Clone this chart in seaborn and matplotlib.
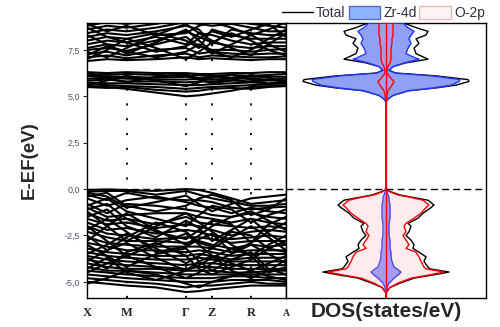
import numpy as np
import pandas as pd
import matplotlib
matplotlib.use("Agg")
import matplotlib.pyplot as plt
from matplotlib.lines import Line2D
from matplotlib.patches import Patch
import seaborn as sns

# k-path nodes (high symmetry points + segment midpoints)
k_nodes = [0.0, 0.2, 0.395, 0.69, 0.99, 1.12, 1.25, 1.445, 1.64, 1.815, 1.99]
k_ticks = [0.0, 0.395, 0.99, 1.25, 1.64, 1.99]
k_labels = ["X", "M", "Γ", "Z", "R", "A"]

valence = [
    [-0.05, -0.02, -0.05, -0.10, 0.00, -0.05, -0.20, -0.50, -0.80, -0.70, -0.60],
    [-0.15, -0.10, -0.10, -0.30, -0.10, -0.30, -0.50, -0.70, -0.90, -0.90, -0.80],
    [-0.30, -0.60, -0.20, -0.50, -0.60, -0.60, -0.70, -1.00, -1.10, -1.00, -0.95],
    [-0.50, -0.90, -0.60, -0.40, -0.70, -0.90, -1.00, -1.30, -1.00, -1.20, -1.30],
    [-0.80, -1.30, -0.80, -0.90, -1.10, -1.20, -1.40, -1.50, -1.30, -1.50, -1.60],
    [-1.00, -1.50, -1.40, -1.30, -1.30, -1.50, -1.60, -1.80, -1.60, -1.80, -1.90],
    [-1.30, -1.70, -1.60, -1.90, -1.50, -1.80, -1.90, -2.00, -2.10, -2.00, -2.10],
    [-1.60, -1.90, -1.80, -2.10, -1.90, -2.00, -2.20, -2.50, -2.30, -2.20, -2.30],
    [-1.80, -2.20, -2.10, -2.40, -2.20, -2.30, -2.50, -2.70, -2.60, -2.50, -2.60],
    [-2.00, -2.40, -2.50, -2.70, -2.60, -2.60, -2.70, -2.90, -2.80, -2.80, -2.80],
    [-2.30, -2.60, -2.80, -2.80, -2.90, -2.80, -3.00, -3.20, -3.00, -3.10, -3.00],
    [-2.60, -2.90, -3.00, -3.10, -3.10, -3.10, -3.20, -3.40, -3.30, -3.30, -3.30],
    [-2.90, -3.10, -3.30, -3.30, -3.40, -3.30, -3.40, -3.60, -3.50, -3.50, -3.50],
    [-3.20, -3.40, -3.50, -3.60, -3.60, -3.50, -3.60, -3.80, -3.70, -3.70, -3.70],
    [-3.40, -3.60, -3.70, -3.80, -3.80, -3.70, -3.80, -3.90, -3.90, -3.90, -3.90],
    [-3.60, -3.80, -3.90, -4.00, -4.10, -4.00, -4.00, -4.10, -4.10, -4.10, -4.10],
    [-3.80, -4.00, -4.10, -4.20, -4.30, -4.20, -4.20, -4.30, -4.30, -4.30, -4.30],
    [-4.00, -4.20, -4.30, -4.30, -4.40, -4.40, -4.40, -4.50, -4.50, -4.40, -4.40],
    [-4.20, -4.40, -4.40, -4.50, -4.60, -4.60, -4.60, -4.60, -4.60, -4.60, -4.60],
    [-4.40, -4.50, -4.60, -4.70, -4.80, -4.80, -4.80, -4.70, -4.70, -4.80, -4.80],
    [-4.60, -4.70, -4.80, -4.90, -5.00, -5.00, -5.00, -4.90, -4.90, -4.90, -5.00],
    [-4.80, -4.90, -5.00, -5.10, -5.30, -5.20, -5.20, -5.10, -5.00, -5.10, -5.10],
    [-5.00, -5.10, -5.20, -5.30, -5.55, -5.50, -5.40, -5.30, -5.20, -5.20, -5.20],
    [-1.20, -2.00, -2.80, -2.00, -1.30, -1.80, -2.30, -3.00, -3.60, -3.00, -2.50],
    [-2.80, -2.00, -1.30, -2.20, -3.00, -2.50, -2.00, -1.50, -1.20, -1.70, -2.20],
    [-3.50, -3.00, -2.40, -3.20, -4.00, -3.60, -3.20, -2.60, -2.00, -2.60, -3.30],
    [-4.50, -4.00, -3.60, -4.20, -4.80, -4.50, -4.00, -3.50, -3.00, -3.50, -4.00],
    [-2.00, -2.80, -3.60, -3.00, -2.40, -3.00, -3.60, -4.00, -4.40, -4.00, -3.60],
    [-0.40, -0.20, -0.90, -1.20, -0.90, -0.50, -0.30, -0.60, -1.40, -1.10, -0.50],
    [-0.90, -0.50, -1.20, -1.60, -2.00, -1.40, -0.90, -1.10, -1.80, -1.40, -1.10],
    [-1.50, -1.10, -2.00, -2.60, -1.70, -2.10, -2.80, -2.20, -1.60, -2.40, -3.00],
    [-2.20, -1.60, -2.30, -3.40, -3.10, -2.70, -2.40, -3.40, -2.90, -1.90, -1.50],
    [-3.00, -3.60, -4.20, -3.50, -3.20, -3.90, -4.40, -3.80, -3.40, -4.30, -4.60],
    [-3.70, -4.30, -3.40, -2.90, -3.60, -4.30, -4.60, -4.20, -3.80, -3.20, -2.80],
    [-4.30, -3.70, -4.50, -4.90, -4.40, -3.90, -3.60, -4.40, -4.80, -4.40, -3.80],
    [-5.10, -4.80, -4.40, -4.60, -5.10, -5.30, -5.00, -4.70, -4.40, -4.70, -4.90],
    [-0.20, -0.40, -1.00, -0.70, -0.35, -0.80, -1.20, -0.80, -0.50, -0.40, -0.30],
    [-2.50, -3.30, -2.60, -1.80, -2.30, -2.90, -3.10, -2.30, -2.50, -3.20, -3.40],
    [-1.10, -0.80, -1.60, -2.30, -2.70, -2.20, -1.70, -1.90, -2.90, -2.30, -1.80],
    [-3.90, -3.30, -2.90, -3.70, -4.40, -4.10, -3.70, -3.20, -3.60, -4.50, -4.20],
]

conduction = [
    [5.55, 5.50, 5.40, 5.20, 5.00, 5.05, 5.15, 5.30, 5.50, 5.55, 5.60],
    [5.65, 5.60, 5.55, 5.50, 5.40, 5.45, 5.50, 5.55, 5.60, 5.65, 5.70],
    [5.75, 5.70, 5.70, 5.65, 5.60, 5.60, 5.65, 5.70, 5.75, 5.70, 5.75],
    [5.85, 5.90, 5.80, 5.80, 5.75, 5.80, 5.80, 5.85, 5.80, 5.85, 5.85],
    [5.95, 6.00, 5.95, 5.90, 5.90, 5.95, 5.90, 5.95, 5.95, 5.90, 5.95],
    [6.10, 6.05, 6.05, 6.00, 6.05, 6.00, 6.05, 6.00, 6.05, 6.05, 6.05],
    [6.20, 6.15, 6.20, 6.15, 6.10, 6.15, 6.10, 6.15, 6.10, 6.15, 6.20],
    [6.30, 6.25, 6.30, 6.25, 6.25, 6.20, 6.20, 6.25, 6.25, 6.30, 6.30],
    [5.60, 5.85, 6.10, 5.85, 5.55, 5.75, 6.00, 6.15, 5.90, 5.65, 5.80],
    [6.25, 6.00, 5.75, 6.05, 6.20, 5.90, 5.70, 5.85, 6.15, 6.00, 5.70],
    [5.50, 5.45, 5.50, 5.35, 5.25, 5.30, 5.40, 5.45, 5.40, 5.50, 5.55],
    [6.90, 7.00, 6.95, 7.00, 7.10, 7.00, 7.05, 7.00, 6.95, 7.00, 7.00],
    [7.10, 7.20, 7.05, 7.20, 7.30, 7.10, 7.20, 7.15, 7.10, 7.10, 7.15],
    [7.30, 7.40, 7.20, 7.50, 7.60, 7.30, 7.40, 7.30, 7.25, 7.30, 7.30],
    [7.50, 7.60, 7.45, 7.80, 8.20, 7.70, 7.50, 7.50, 7.40, 7.50, 7.55],
    [7.60, 7.80, 7.70, 8.00, 8.50, 8.20, 7.90, 7.70, 7.60, 7.70, 7.70],
    [7.80, 8.00, 7.90, 8.20, 7.80, 8.40, 8.30, 8.00, 7.80, 7.90, 7.90],
    [8.00, 8.20, 8.10, 8.40, 8.00, 7.60, 8.60, 8.30, 8.10, 8.10, 8.10],
    [8.20, 8.40, 8.30, 8.50, 8.80, 8.60, 7.80, 8.60, 8.40, 8.30, 8.30],
    [8.40, 8.60, 8.50, 8.70, 9.00, 8.90, 8.80, 8.90, 8.70, 8.50, 8.50],
    [8.60, 8.80, 8.70, 8.90, 9.20, 9.10, 9.00, 9.10, 8.90, 8.80, 8.70],
    [8.80, 9.00, 8.90, 9.10, 9.40, 9.30, 9.20, 9.30, 9.10, 9.00, 8.90],
    [7.00, 7.50, 8.10, 7.60, 7.00, 7.40, 7.90, 8.40, 8.00, 7.50, 7.20],
    [8.30, 7.80, 7.30, 7.90, 8.60, 8.00, 7.40, 7.10, 7.50, 8.10, 8.60],
    [7.40, 7.10, 7.60, 8.30, 8.90, 8.40, 8.00, 7.60, 7.20, 7.80, 8.40],
    [8.70, 8.20, 7.90, 7.40, 7.70, 8.10, 8.50, 8.20, 8.60, 8.90, 8.20],
    [7.20, 7.70, 7.40, 7.10, 7.40, 7.80, 7.30, 7.80, 8.30, 7.80, 7.40],
    [8.90, 8.50, 8.80, 8.30, 8.40, 8.80, 9.00, 8.70, 8.30, 8.60, 9.00],
]

# density of states (half-width, arbitrary units) vs energy
dos_energy = [-5.9, -5.6, -5.45, -5.3, -5.07, -4.8, -4.63, -4.47, -4.3, -4.2, -3.9,
              -3.65, -3.4, -3.2, -3.0, -2.75, -2.5, -2.3, -2.0, -1.85, -1.57, -1.3,
              -1.0, -0.86, -0.6, -0.45, -0.32, -0.15, -0.05, 0.0, 4.7, 4.85, 5.05,
              5.3, 5.45, 5.6, 5.8, 5.9, 6.1, 6.25, 6.4, 6.6, 6.8, 7.0, 7.05, 7.3,
              7.6, 7.85, 8.1, 8.3, 8.5, 8.7, 8.95]
dos_total = [0, 0, 2, 4, 14, 28, 47, 63, 44, 42, 38,
             40, 33, 27, 28, 25, 20, 23, 25, 22, 32, 37,
             45, 48, 42, 27, 14, 5, 1, 0, 0, 2, 7,
             23, 50, 70, 83, 82, 50, 10, 3, 7, 20, 42, 40, 30,
             28, 33, 30, 40, 42, 30, 18]
dos_zr = [0, 0, 1, 1, 3, 8, 12, 15, 11, 8, 6,
          5, 5, 4, 4, 4, 3, 3, 3, 3, 4, 4,
          4, 4, 3, 3, 2, 1, 0.5, 0, 0, 2, 7,
          22, 47, 65, 73, 74, 46, 9, 3, 7, 18, 33, 30, 20,
          22, 25, 23, 25, 28, 22, 17]
dos_o = [0, 0, 2, 4, 12, 25, 43, 58, 40, 38, 35,
         33, 30, 20, 23, 20, 17, 20, 18, 20, 28, 35,
         40, 43, 37, 25, 12, 4, 1, 0, 0, 0.5, 1,
         2, 4, 6, 8, 6, 3, 1, 1, 2, 4, 5, 5, 5,
         5, 6, 6, 7, 7, 7, 7]

rows = []
for i, band in enumerate(valence + conduction):
    for k, e in zip(k_nodes, band):
        rows.append({"band": i, "k": k, "E": e})
bands_df = pd.DataFrame(rows)

sns.set_style("white")
plt.rcParams["font.family"] = ["Liberation Sans", "DejaVu Sans"]

fig = plt.figure(figsize=(5.0, 3.27), dpi=100)
ax1 = fig.add_axes([0.174, 0.0887, 0.398, 0.841])
ax2 = fig.add_axes([0.572, 0.0887, 0.400, 0.841])

ylim = (-5.87, 8.95)

# band structure
sns.lineplot(data=bands_df, x="k", y="E", units="band", estimator=None,
             color="black", linewidth=1.5, ax=ax1, zorder=3)
for kx in k_ticks[1:-1]:
    ax1.axvline(kx, color="black", linestyle=(0, (1.2, 7)), linewidth=1.3, zorder=1)
ax1.axhline(0, color="black", linestyle=(0, (5, 3)), linewidth=1.0, zorder=4)
ax1.set_xlim(k_ticks[0], k_ticks[-1])
ax1.set_ylim(*ylim)
ax1.set_xticks([])
ax1.set_xlabel("")
ax1.set_yticks([-5.0, -2.5, 0.0, 2.5, 5.0, 7.5])
ax1.set_yticklabels(["-5,0", "-2,5", "0,0", "2,5", "5,0", "7,5"])
ax1.tick_params(axis="y", direction="out", length=3, width=0.8, labelsize=6.5,
                labelcolor="#505064", left=True, pad=2)
ax1.set_ylabel("E-EF(eV)", fontsize=13.5, fontweight="bold", labelpad=19)
for kx, lab in zip(k_ticks, k_labels):
    size = 7 if lab == "A" else 9
    ax1.text(kx, -0.055, lab, transform=ax1.get_xaxis_transform(), ha="center",
             va="center", fontsize=size, fontweight="bold",
             family=["Liberation Serif", "DejaVu Serif"])

# density of states, mirrored around zero
e = np.array(dos_energy)
tot = np.array(dos_total, dtype=float)
zr = np.array(dos_zr, dtype=float)
ox = np.array(dos_o, dtype=float)


def outline(xvals, color, z):
    for sign in (1, -1):
        sns.lineplot(x=sign * xvals, y=e, sort=False, estimator=None, orient="y",
                     color=color, linewidth=1.0, ax=ax2, zorder=z)


outline(tot, "black", 2)
ax2.fill_betweenx(e, -zr, zr, color="#7b90f5", alpha=0.85, linewidth=0, zorder=3)
outline(zr, "#2233ff", 4)
ax2.fill_betweenx(e, -ox, ox, color="#ff9aa8", alpha=0.2, linewidth=0, zorder=5)
outline(ox, "red", 6)
ax2.axvline(0, color="red", linewidth=1.0, zorder=6)
ax2.axhline(0, color="black", linestyle=(0, (5, 3)), linewidth=1.0, zorder=7)
ax2.set_xlim(-100, 100)
ax2.set_ylim(*ylim)
ax2.set_xticks([])
ax2.set_yticks([])
ax2.set_xlabel("DOS(states/eV)", fontsize=15, fontweight="bold", labelpad=3)
ax2.set_ylabel("")

for ax in (ax1, ax2):
    for sp in ax.spines.values():
        sp.set_color("black")
        sp.set_linewidth(1.0)

handles = [Line2D([], [], color="black", linewidth=1.0),
           Patch(facecolor="#8fb4ff", edgecolor="#5a6ab8"),
           Patch(facecolor="#fff4f4", edgecolor="#f0b8b8")]
fig.legend(handles, ["Total", "Zr-4d", "O-2p"], loc="upper right",
           bbox_to_anchor=(0.995, 1.02), ncol=3, frameon=False, fontsize=10,
           handlelength=2.3, handleheight=1.1, handletextpad=0.2,
           columnspacing=0.2, labelcolor="#303040")

fig.savefig("out.png", dpi=100, facecolor="white")
